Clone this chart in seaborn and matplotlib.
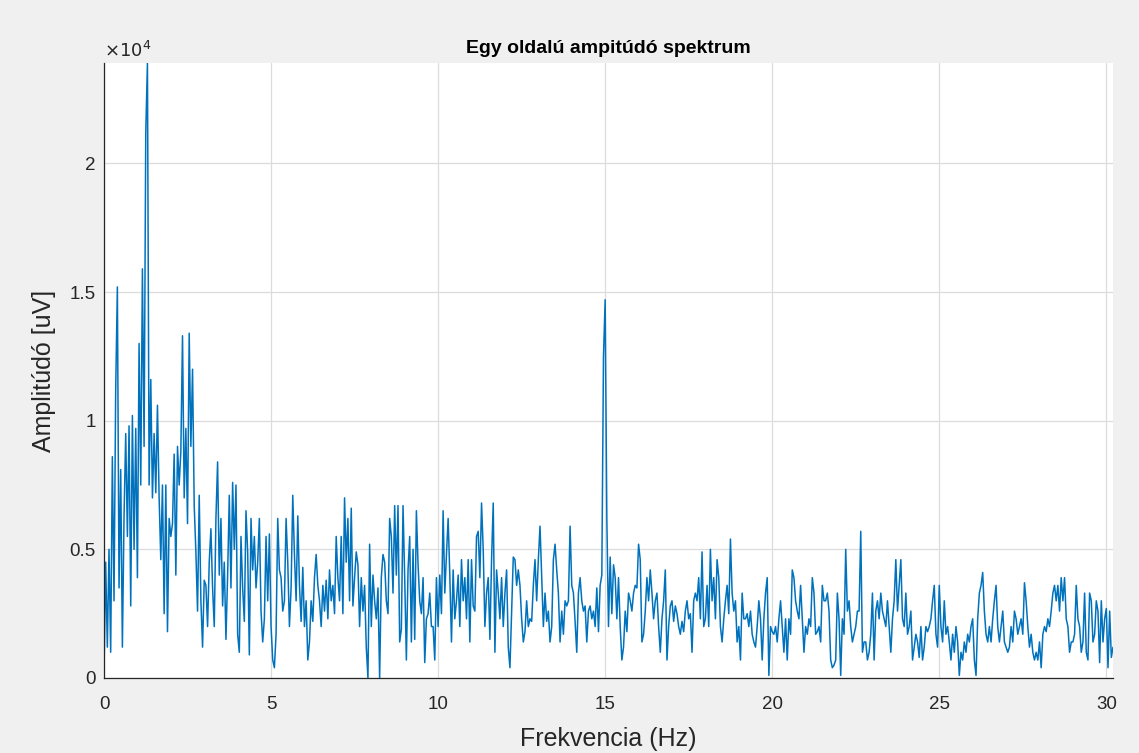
import numpy as np
import pandas as pd
import seaborn as sns
import matplotlib.pyplot as plt
from matplotlib.ticker import FuncFormatter

# amplitude values, in units of 1e4 uV, one value every 0.05 Hz
df_hz = 0.05

amp_0_5 = [
    0.02, 0.45, 0.12, 0.50, 0.10, 0.86, 0.30, 1.12, 1.52, 0.35, 0.81, 0.12, 0.63, 0.95, 0.55, 0.98, 0.28, 1.02, 0.50, 0.97,
    0.39, 1.30, 0.75, 1.59, 0.90, 2.12, 2.39, 0.75, 1.16, 0.70, 0.95, 0.72, 1.06, 0.70, 0.46, 0.75, 0.25, 0.75, 0.18, 0.62,
    0.55, 0.60, 0.87, 0.40, 0.90, 0.75, 0.88, 1.33, 0.70, 0.97, 0.60, 1.34, 0.90, 1.20, 0.67, 0.49, 0.26, 0.71, 0.30, 0.12,
    0.38, 0.36, 0.20, 0.45, 0.58, 0.35, 0.20, 0.62, 0.84, 0.40, 0.62, 0.28, 0.45, 0.15, 0.40, 0.71, 0.35, 0.76, 0.50, 0.75,
    0.17, 0.10, 0.55, 0.35, 0.22, 0.65, 0.49, 0.09, 0.62, 0.42, 0.55, 0.35, 0.45, 0.62, 0.26, 0.14, 0.23, 0.55, 0.30, 0.56,
]
amp_5_10 = [
    0.20, 0.07, 0.04, 0.17, 0.62, 0.42, 0.39, 0.26, 0.30, 0.62, 0.45, 0.20, 0.35, 0.71, 0.48, 0.30, 0.63, 0.36, 0.22, 0.43,
    0.20, 0.30, 0.07, 0.14, 0.30, 0.22, 0.39, 0.48, 0.36, 0.30, 0.20, 0.36, 0.26, 0.38, 0.23, 0.42, 0.30, 0.36, 0.25, 0.55,
    0.39, 0.30, 0.55, 0.25, 0.70, 0.45, 0.62, 0.30, 0.66, 0.28, 0.39, 0.49, 0.44, 0.20, 0.39, 0.26, 0.36, 0.12, 0.00, 0.52,
    0.20, 0.40, 0.30, 0.23, 0.35, 0.00, 0.39, 0.48, 0.45, 0.30, 0.25, 0.62, 0.55, 0.33, 0.67, 0.40, 0.67, 0.14, 0.19, 0.67,
    0.39, 0.07, 0.42, 0.55, 0.14, 0.50, 0.15, 0.65, 0.44, 0.30, 0.25, 0.39, 0.06, 0.23, 0.25, 0.33, 0.20, 0.20, 0.07, 0.39,
]
amp_10_15 = [
    0.20, 0.40, 0.25, 0.65, 0.33, 0.48, 0.62, 0.40, 0.14, 0.42, 0.23, 0.30, 0.40, 0.20, 0.46, 0.30, 0.39, 0.23, 0.46, 0.14,
    0.46, 0.28, 0.26, 0.55, 0.57, 0.39, 0.68, 0.50, 0.20, 0.33, 0.39, 0.15, 0.46, 0.68, 0.10, 0.42, 0.33, 0.23, 0.39, 0.20,
    0.33, 0.42, 0.12, 0.04, 0.26, 0.47, 0.46, 0.36, 0.42, 0.36, 0.23, 0.14, 0.18, 0.30, 0.20, 0.23, 0.22, 0.36, 0.46, 0.30,
    0.46, 0.59, 0.39, 0.20, 0.33, 0.22, 0.26, 0.14, 0.20, 0.46, 0.52, 0.42, 0.33, 0.14, 0.26, 0.17, 0.30, 0.28, 0.30, 0.59,
    0.36, 0.33, 0.22, 0.10, 0.33, 0.39, 0.30, 0.26, 0.28, 0.14, 0.26, 0.28, 0.23, 0.26, 0.20, 0.35, 0.18, 0.36, 0.40, 1.25,
]
amp_15_20 = [
    1.47, 0.62, 0.20, 0.47, 0.25, 0.44, 0.39, 0.23, 0.39, 0.20, 0.07, 0.12, 0.26, 0.18, 0.33, 0.30, 0.26, 0.33, 0.36, 0.35,
    0.52, 0.46, 0.14, 0.17, 0.26, 0.39, 0.30, 0.42, 0.33, 0.23, 0.30, 0.33, 0.20, 0.10, 0.23, 0.30, 0.42, 0.07, 0.20, 0.28,
    0.30, 0.22, 0.28, 0.25, 0.20, 0.17, 0.22, 0.18, 0.26, 0.30, 0.23, 0.25, 0.10, 0.30, 0.33, 0.30, 0.39, 0.23, 0.49, 0.20,
    0.23, 0.36, 0.20, 0.50, 0.30, 0.39, 0.23, 0.46, 0.39, 0.20, 0.14, 0.23, 0.30, 0.36, 0.25, 0.54, 0.33, 0.26, 0.30, 0.14,
    0.20, 0.07, 0.33, 0.23, 0.23, 0.25, 0.20, 0.26, 0.17, 0.14, 0.12, 0.20, 0.30, 0.23, 0.07, 0.23, 0.33, 0.39, 0.01, 0.20,
]
amp_20_25 = [
    0.18, 0.17, 0.20, 0.14, 0.23, 0.30, 0.20, 0.10, 0.23, 0.07, 0.23, 0.17, 0.42, 0.39, 0.30, 0.26, 0.23, 0.36, 0.23, 0.10,
    0.20, 0.17, 0.23, 0.20, 0.39, 0.33, 0.17, 0.18, 0.20, 0.14, 0.36, 0.30, 0.30, 0.33, 0.26, 0.07, 0.04, 0.05, 0.07, 0.33,
    0.23, 0.01, 0.23, 0.17, 0.50, 0.26, 0.30, 0.20, 0.14, 0.17, 0.20, 0.26, 0.26, 0.57, 0.10, 0.14, 0.14, 0.07, 0.10, 0.17,
    0.33, 0.07, 0.26, 0.30, 0.23, 0.33, 0.26, 0.23, 0.20, 0.30, 0.20, 0.10, 0.23, 0.30, 0.46, 0.26, 0.36, 0.46, 0.23, 0.20,
    0.33, 0.17, 0.20, 0.26, 0.07, 0.12, 0.17, 0.14, 0.08, 0.20, 0.07, 0.12, 0.20, 0.18, 0.20, 0.23, 0.30, 0.36, 0.17, 0.12,
]
amp_25_30 = [
    0.36, 0.20, 0.14, 0.30, 0.17, 0.20, 0.14, 0.07, 0.17, 0.10, 0.20, 0.14, 0.01, 0.10, 0.07, 0.14, 0.10, 0.17, 0.14, 0.20,
    0.23, 0.07, 0.01, 0.23, 0.33, 0.36, 0.41, 0.26, 0.17, 0.14, 0.20, 0.14, 0.23, 0.30, 0.36, 0.20, 0.14, 0.20, 0.26, 0.14,
    0.12, 0.10, 0.12, 0.20, 0.14, 0.26, 0.23, 0.17, 0.20, 0.23, 0.17, 0.37, 0.30, 0.20, 0.12, 0.17, 0.10, 0.07, 0.10, 0.07,
    0.14, 0.04, 0.17, 0.20, 0.18, 0.23, 0.20, 0.26, 0.33, 0.36, 0.30, 0.36, 0.26, 0.39, 0.30, 0.39, 0.23, 0.20, 0.10, 0.14,
    0.14, 0.17, 0.36, 0.23, 0.20, 0.10, 0.14, 0.33, 0.10, 0.07, 0.33, 0.30, 0.14, 0.17, 0.30, 0.26, 0.06, 0.30, 0.14, 0.23,
    0.27, 0.04, 0.26, 0.08, 0.12,
]

amp = np.array(amp_0_5 + amp_5_10 + amp_10_15 + amp_15_20 + amp_20_25 + amp_25_30)
freq = np.arange(len(amp)) * df_hz
df = pd.DataFrame({"f": freq, "a": amp})

sns.set_theme(style="white")
plt.rcParams['font.family'] = ['Liberation Sans', 'DejaVu Sans']

fig = plt.figure(figsize=(11.39, 7.53), dpi=100, facecolor='#f0f0f0')
ax = fig.add_axes([104/1139, 75/753, (1113-104)/1139, (678-63)/753])
ax.set_facecolor('white')

sns.lineplot(data=df, x="f", y="a", ax=ax, color='#0072BD', linewidth=1.1,
             estimator=None, sort=False)

ax.set_xlim(0, 30.2)
ax.set_ylim(0, 2.39)
ax.set_xticks(range(0, 31, 5))
ax.set_yticks([0, 0.5, 1, 1.5, 2])
ax.yaxis.set_major_formatter(FuncFormatter(lambda v, p: f"{v:g}"))
ax.grid(True, color='#dcdcdc', linewidth=0.9)
ax.set_axisbelow(True)

for s in ['top', 'right']:
    ax.spines[s].set_visible(False)
for s in ['left', 'bottom']:
    ax.spines[s].set_color('#262626')
    ax.spines[s].set_linewidth(0.9)
ax.tick_params(direction='in', length=6, width=0.9, colors='#262626',
               labelsize=13.5, labelcolor='#262626')
ax.tick_params(axis='x', pad=13)
ax.tick_params(axis='y', pad=6)

ax.set_xlabel("Frekvencia (Hz)", fontsize=18, color='#262626', labelpad=10)
ax.set_ylabel("Amplitúdó [uV]", fontsize=18, color='#262626', labelpad=10)
ax.set_title("Egy oldalú ampitúdó spektrum", fontsize=14, fontweight='bold',
             color='#000000', pad=7)
ax.text(0.0, 1.004, r"$\times10^4$", transform=ax.transAxes, fontsize=13,
        color='#262626', ha='left', va='bottom')

fig.savefig("out.png", dpi=100, facecolor=fig.get_facecolor())
